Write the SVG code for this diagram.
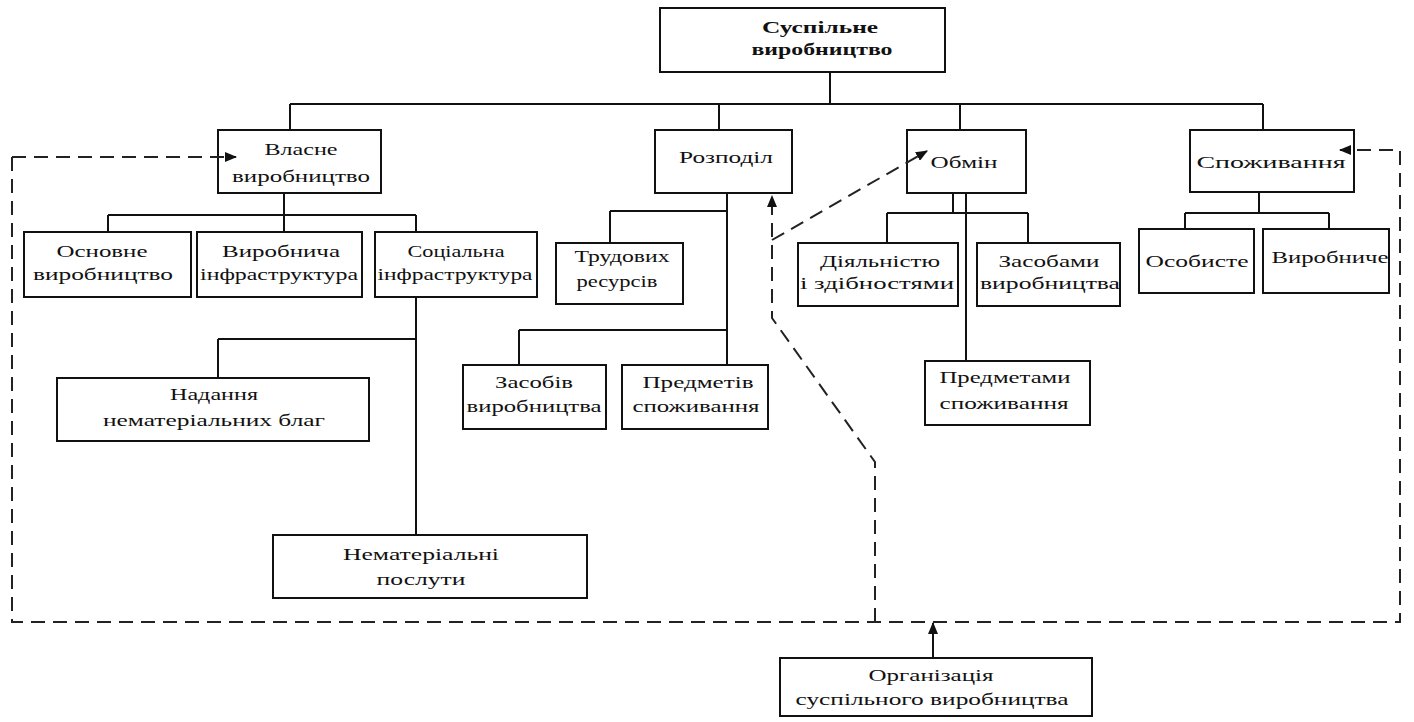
<svg xmlns="http://www.w3.org/2000/svg" width="1414" height="722" viewBox="0 0 1414 722">
<style>
.box{fill:#fff;stroke:#111;stroke-width:2}
.ln{fill:none;stroke:#111;stroke-width:2}
.dash{fill:none;stroke:#222;stroke-width:2;stroke-dasharray:14 8}
text{font-family:"Liberation Serif","DejaVu Serif",serif;font-size:17px;fill:#111;text-anchor:middle}
.b{font-weight:bold}
</style>
<defs>
<marker id="ah" markerWidth="12" markerHeight="10" refX="11" refY="5" orient="auto" markerUnits="userSpaceOnUse">
<path d="M0,0 L12,5 L0,10 Z" fill="#111"/>
</marker>
</defs>
<rect width="1414" height="722" fill="#fff"/>
<g id="n-top"><rect class="box" x="660" y="8" width="285" height="64"/>
<text class="b" x="820" y="33" textLength="116" lengthAdjust="spacingAndGlyphs">Суспільне</text>
<text class="b" x="822" y="55" textLength="141" lengthAdjust="spacingAndGlyphs">виробництво</text></g>
<g id="n-vlasne"><rect class="box" x="218" y="130" width="163" height="63"/>
<text x="301" y="155" textLength="73" lengthAdjust="spacingAndGlyphs">Власне</text>
<text x="301" y="182" textLength="138" lengthAdjust="spacingAndGlyphs">виробництво</text></g>
<g id="n-rozpodil"><rect class="box" x="655" y="130" width="137" height="63"/>
<text x="726" y="163" textLength="94" lengthAdjust="spacingAndGlyphs">Розподіл</text></g>
<g id="n-obmin"><rect class="box" x="907" y="130" width="119" height="63"/>
<text x="964" y="168" textLength="67" lengthAdjust="spacingAndGlyphs">Обмін</text></g>
<g id="n-spozh"><rect class="box" x="1190" y="130" width="164" height="62"/>
<text x="1271" y="168" textLength="149" lengthAdjust="spacingAndGlyphs">Споживання</text></g>
<g id="n-osnovne"><rect class="box" x="24" y="232" width="167" height="65"/>
<text x="102" y="257" textLength="91" lengthAdjust="spacingAndGlyphs">Основне</text>
<text x="103" y="280" textLength="140" lengthAdjust="spacingAndGlyphs">виробництво</text></g>
<g id="n-vyrinfra"><rect class="box" x="197" y="232" width="165" height="65"/>
<text x="281" y="257" textLength="118" lengthAdjust="spacingAndGlyphs">Виробнича</text>
<text x="279" y="280" textLength="158" lengthAdjust="spacingAndGlyphs">інфраструктура</text></g>
<g id="n-socinfra"><rect class="box" x="375" y="232" width="162" height="65"/>
<text x="456" y="257" textLength="97" lengthAdjust="spacingAndGlyphs">Соціальна</text>
<text x="455" y="280" textLength="155" lengthAdjust="spacingAndGlyphs">інфраструктура</text></g>
<g id="n-trud"><rect class="box" x="556" y="243" width="127" height="61"/>
<text x="622" y="262" textLength="95" lengthAdjust="spacingAndGlyphs">Трудових</text>
<text x="617" y="287" textLength="81" lengthAdjust="spacingAndGlyphs">ресурсів</text></g>
<g id="n-diyal"><rect class="box" x="798" y="243" width="160" height="63"/>
<text x="880" y="267" textLength="120" lengthAdjust="spacingAndGlyphs">Діяльністю</text>
<text x="877" y="289" textLength="154" lengthAdjust="spacingAndGlyphs">і здібностями</text></g>
<g id="n-zasobamy"><rect class="box" x="977" y="243" width="143" height="63"/>
<text x="1049" y="267" textLength="101" lengthAdjust="spacingAndGlyphs">Засобами</text>
<text x="1050" y="289" textLength="140" lengthAdjust="spacingAndGlyphs">виробництва</text></g>
<g id="n-osobyste"><rect class="box" x="1139" y="229" width="115" height="64"/>
<text x="1197" y="267" textLength="103" lengthAdjust="spacingAndGlyphs">Особисте</text></g>
<g id="n-vyrobnyche"><rect class="box" x="1263" y="229" width="126" height="64"/>
<text x="1330" y="263" textLength="117" lengthAdjust="spacingAndGlyphs">Виробниче</text></g>
<g id="n-nadannia"><rect class="box" x="57" y="378" width="312" height="63"/>
<text x="214" y="400" textLength="88" lengthAdjust="spacingAndGlyphs">Надання</text>
<text x="214" y="426" textLength="222" lengthAdjust="spacingAndGlyphs">нематеріальних благ</text></g>
<g id="n-zasobiv"><rect class="box" x="463" y="365" width="143" height="64"/>
<text x="534" y="388" textLength="78" lengthAdjust="spacingAndGlyphs">Засобів</text>
<text x="534" y="412" textLength="135" lengthAdjust="spacingAndGlyphs">виробництва</text></g>
<g id="n-predmetiv"><rect class="box" x="622" y="365" width="146" height="64"/>
<text x="698" y="388" textLength="111" lengthAdjust="spacingAndGlyphs">Предметів</text>
<text x="696" y="412" textLength="127" lengthAdjust="spacingAndGlyphs">споживання</text></g>
<g id="n-predmetamy"><rect class="box" x="925" y="361" width="165" height="64"/>
<text x="1005" y="383" textLength="131" lengthAdjust="spacingAndGlyphs">Предметами</text>
<text x="1004" y="409" textLength="129" lengthAdjust="spacingAndGlyphs">споживання</text></g>
<g id="n-nemat"><rect class="box" x="273" y="535" width="314" height="63"/>
<text x="421" y="560" textLength="156" lengthAdjust="spacingAndGlyphs">Нематеріальні</text>
<text x="421" y="585" textLength="89" lengthAdjust="spacingAndGlyphs">послути</text></g>
<g id="n-org"><rect class="box" x="780" y="658" width="312" height="58"/>
<text x="931" y="681" textLength="125" lengthAdjust="spacingAndGlyphs">Організація</text>
<text x="932" y="705" textLength="273" lengthAdjust="spacingAndGlyphs">суспільного виробництва</text></g>
<g id="connectors">
<path class="ln" d="M830,72 V104 M290,104 H1263 M290,104 V130 M719,104 V130 M960,104 V130 M1263,104 V130"/>
<path class="ln" d="M284,193 V232 M108,215 H416 M108,215 V232 M416,215 V232"/>
<path class="ln" d="M416,297 V535 M218,339 H416 M218,339 V378"/>
<path class="ln" d="M727,193 V365 M610,211 H727 M610,211 V243 M519,330 H727 M519,330 V365"/>
<path class="ln" d="M953,193 V213 M887,213 H1028 M887,213 V243 M1028,213 V243 M966,193 V361"/>
<path class="ln" d="M1259,192 V213 M1185,213 H1329 M1185,213 V229 M1329,213 V229"/>
<path class="ln" d="M933,658 V623" marker-end="url(#ah)"/>
<path class="dash" d="M12,157 H236" marker-end="url(#ah)"/>
<path class="dash" d="M12,157 V622 H1400 V150 H1340" marker-end="url(#ah)"/>
<path class="dash" d="M875,622 V462 L772,318 V196" marker-end="url(#ah)"/>
<path class="dash" d="M772,240 L927,151" marker-end="url(#ah)"/>
</g>
</svg>
